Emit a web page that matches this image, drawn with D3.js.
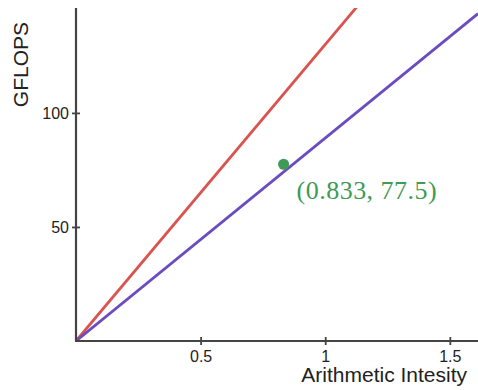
<!DOCTYPE html>
<html><head><meta charset="utf-8">
<script src="https://cdn.jsdelivr.net/npm/d3@7"></script>
<style>body{margin:0;background:#fff}svg{display:block}</style>
</head><body>
<svg id="c" width="478" height="390"></svg>
<script>
const xTicks = [0.5, 1, 1.5];
const yTicks = [50, 100];
const xDomain = [0, 1.613];
const yDomain = [0, 146];
const lineNames = ["compute", "memory"];
const lineSlopes = [130, 89];
const lineColors = ["#d9534f", "#6a4cbf"];
const pointX = [0.833];
const pointY = [77.5];
const pointLabels = ["(0.833, 77.5)"];
const xTitle = "Arithmetic Intesity";
const yTitle = "GFLOPS";

const svg = d3.select("#c");
const L = 76, R = 478, T = 8, B = 341;
const x = d3.scaleLinear().domain(xDomain).range([L, R]);
const y = d3.scaleLinear().domain(yDomain).range([B, T]);

svg.append("clipPath").attr("id","clip").append("rect")
  .attr("x", L).attr("y", T).attr("width", R-L).attr("height", B-T);

const g = svg.append("g").attr("clip-path","url(#clip)");
lineSlopes.forEach((s,i)=>{
  const pts = [[0,0],[xDomain[1], s*xDomain[1]]];
  g.append("path").attr("d", d3.line().x(d=>x(d[0])).y(d=>y(d[1]))(pts))
    .attr("stroke", lineColors[i]).attr("stroke-width", 2.8).attr("fill","none");
});

const xAxis = d3.axisBottom(x).tickValues(xTicks).tickFormat(d3.format("")).tickSizeInner(4).tickSizeOuter(0).tickPadding(6);
const yAxis = d3.axisLeft(y).tickValues(yTicks).tickFormat(d3.format("")).tickSizeInner(4).tickSizeOuter(0).tickPadding(3);
const gx = svg.append("g").attr("transform", `translate(0,${B})`).call(xAxis);
const gy = svg.append("g").attr("transform", `translate(${L},0)`).call(yAxis);
[gx, gy].forEach(a=>{
  a.select(".domain").attr("stroke","#444").attr("stroke-width",2.2);
  a.selectAll(".tick line").attr("stroke","#444").attr("stroke-width",1.8);
  a.selectAll("text").attr("font-family","Liberation Sans, Arial, sans-serif").attr("font-size",16).attr("fill","#222");
});
gx.selectAll(".tick line").attr("y1",-4);
gy.selectAll(".tick line").attr("x1",4);
gx.select(".domain").attr("d", `M${L-1},0H${R}`);
gy.select(".domain").attr("d", `M0,${T}V${B+1}`);

svg.append("text").attr("x", 467).attr("y", 382).attr("text-anchor","end")
  .attr("font-family","Liberation Sans, Arial, sans-serif").attr("font-size",21).attr("fill","#222").text(xTitle);
svg.append("text").attr("transform","translate(28,22) rotate(-90)").attr("text-anchor","end")
  .attr("font-family","Liberation Sans, Arial, sans-serif").attr("font-size",21).attr("fill","#222").text(yTitle);

pointX.forEach((px,i)=>{
  svg.append("circle").attr("cx", x(px)).attr("cy", y(pointY[i])).attr("r", 5.5).attr("fill","#3f9a55");
  svg.append("text").attr("x", x(px)+13).attr("y", y(pointY[i])+35)
    .attr("font-family","Liberation Serif, DejaVu Serif, serif").attr("font-size",26)
    .attr("textLength", 140).attr("lengthAdjust","spacing")
    .attr("fill","#3f9a55").text(pointLabels[i]);
});
</script>
</body></html>
